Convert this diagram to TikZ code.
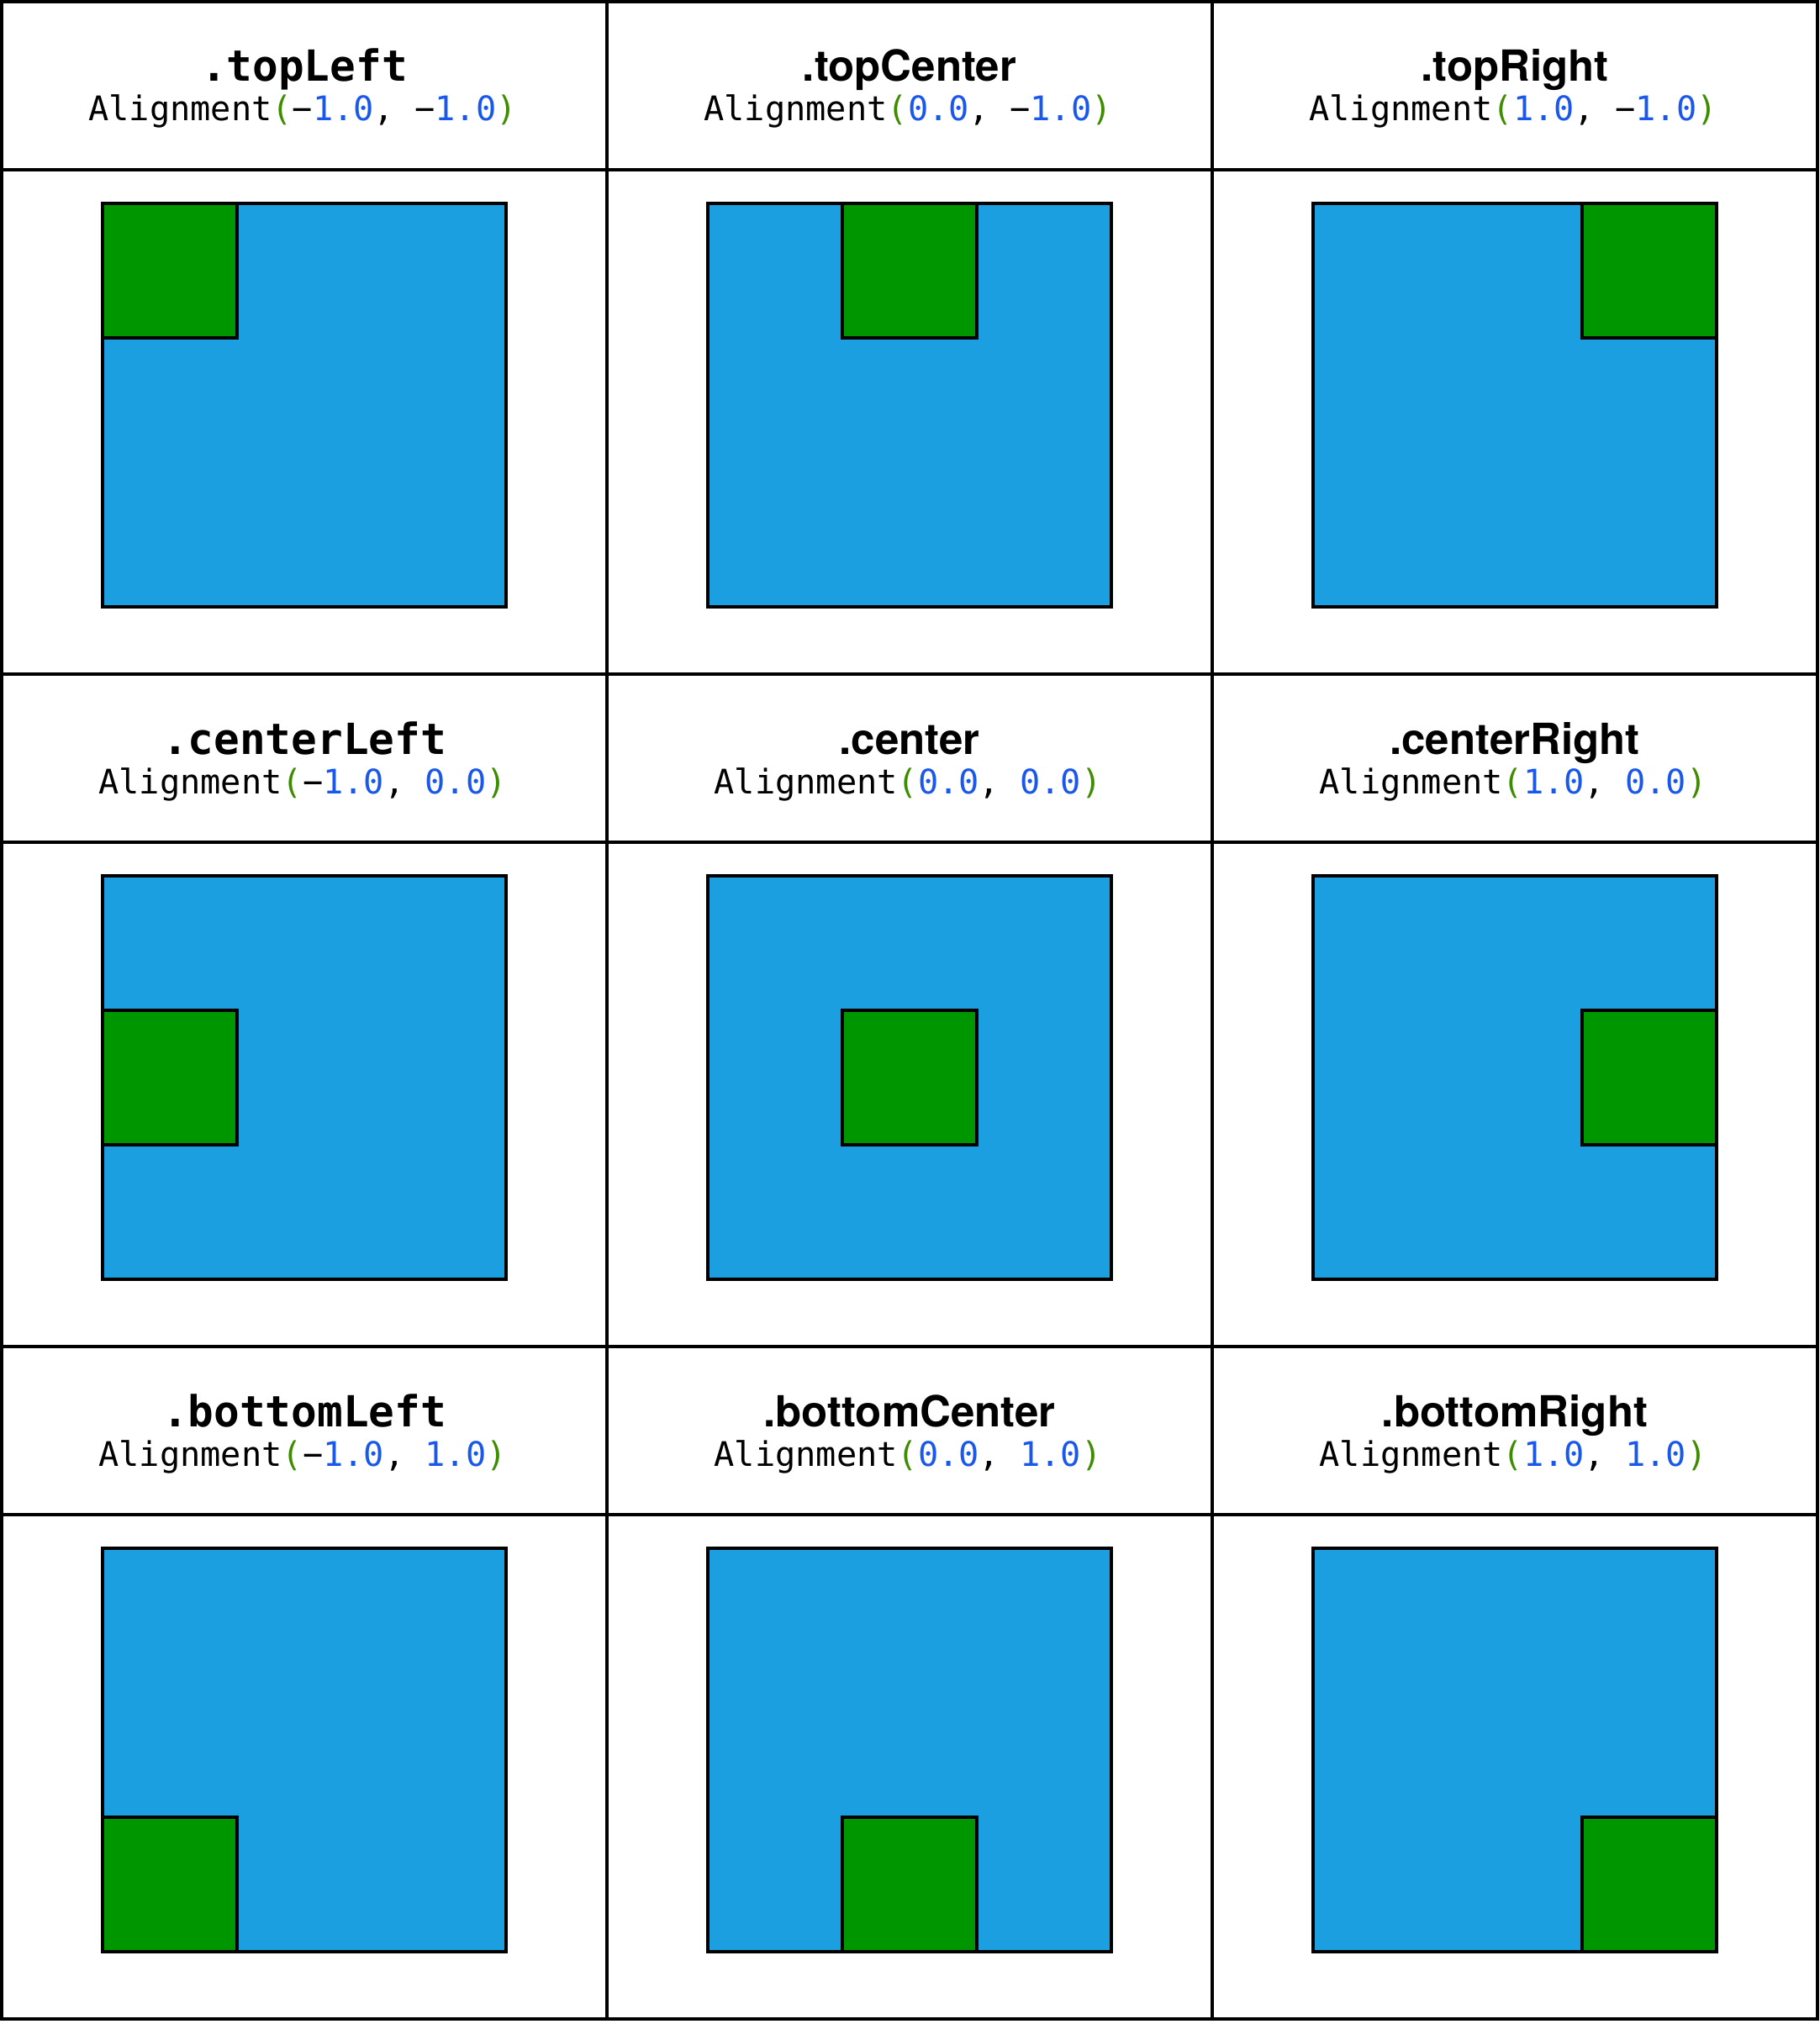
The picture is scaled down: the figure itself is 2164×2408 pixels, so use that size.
\documentclass[tikz,border=0pt]{standalone}
\usepackage{fontspec}
\newfontfamily\monofont{DejaVu Sans Mono}
\newfontfamily\headsans{TeX Gyre Heros}
\definecolor{sqblue}{RGB}{28,159,224}
\definecolor{sqgreen}{RGB}{0,150,0}
\definecolor{numblue}{RGB}{25,88,235}
\definecolor{parengreen}{RGB}{62,140,0}
\newcommand\nmb[1]{\textcolor{numblue}{#1}}
\newcommand\alignlabel[2]{Alignment\textcolor{parengreen}{(}#1, #2\textcolor{parengreen}{)}}
\tikzset{
  grid line/.style={line width=4pt, black},
  bluebox/.style={draw=black, line width=4pt, fill=sqblue, minimum size=480pt, inner sep=0pt, outer sep=0pt, anchor=north west},
  greenbox/.style={draw=black, line width=4pt, fill=sqgreen, minimum size=160pt, inner sep=0pt, outer sep=0pt, anchor=north west},
  monotitle/.style={anchor=base, inner sep=0pt, font=\monofont\bfseries\fontsize{51}{60}\selectfont},
  sanstitle/.style={anchor=base, inner sep=0pt, font=\headsans\bfseries\fontsize{51}{60}\selectfont},
  subtitle/.style={anchor=base, inner sep=0pt, font=\monofont\fontsize{40.3}{48}\selectfont},
}
\begin{document}
\begin{tikzpicture}[x=1pt, y=-1pt]
\useasboundingbox (0,0) rectangle (2164,2408);
% squares
\foreach \c/\r/\ax/\ay/\nm in {0/0/-1/-1/a, 1/0/0/-1/b, 2/0/1/-1/c, 0/1/-1/0/d, 1/1/0/0/e, 2/1/1/0/f, 0/2/-1/1/g, 1/2/0/1/h, 2/2/1/1/i}{
  \pgfmathsetmacro\bx{2+720*\c+120}
  \pgfmathsetmacro\by{202+800*\r+40}
  \pgfmathsetmacro\gx{\bx+(\ax+1)*160}
  \pgfmathsetmacro\gy{\by+(\ay+1)*160}
  \node[bluebox] (blue\nm) at (\bx,\by) {};
  \node[greenbox] (green\nm) at (\gx,\gy) {};
}
% grid
\draw[grid line] (2,2) rectangle (2162,2402);
\draw[grid line] (722,2) -- (722,2402);
\draw[grid line] (1442,2) -- (1442,2402);
\foreach \yy in {202,802,1002,1602,1802}{
  \draw[grid line] (2,\yy) -- (2162,\yy);
}
% titles
\node[monotitle] (t1) at (362,97) {.topLeft};
\node[sanstitle] (t2) at (1082,97) {.topCenter};
\node[sanstitle] (t3) at (1802,97) {.topRight};
\node[subtitle] (s1) at (360,144) {\alignlabel{−\nmb{1.0}}{−\nmb{1.0}}};
\node[subtitle] (s2) at (1080,144) {\alignlabel{\nmb{0.0}}{−\nmb{1.0}}};
\node[subtitle] (s3) at (1800,144) {\alignlabel{\nmb{1.0}}{−\nmb{1.0}}};
\node[monotitle] (t4) at (362,897) {.centerLeft};
\node[sanstitle] (t5) at (1082,897) {.center};
\node[sanstitle] (t6) at (1802,897) {.centerRight};
\node[subtitle] (s4) at (360,944) {\alignlabel{−\nmb{1.0}}{\nmb{0.0}}};
\node[subtitle] (s5) at (1080,944) {\alignlabel{\nmb{0.0}}{\nmb{0.0}}};
\node[subtitle] (s6) at (1800,944) {\alignlabel{\nmb{1.0}}{\nmb{0.0}}};
\node[monotitle] (t7) at (362,1697) {.bottomLeft};
\node[sanstitle] (t8) at (1082,1697) {.bottomCenter};
\node[sanstitle] (t9) at (1802,1697) {.bottomRight};
\node[subtitle] (s7) at (360,1744) {\alignlabel{−\nmb{1.0}}{\nmb{1.0}}};
\node[subtitle] (s8) at (1080,1744) {\alignlabel{\nmb{0.0}}{\nmb{1.0}}};
\node[subtitle] (s9) at (1800,1744) {\alignlabel{\nmb{1.0}}{\nmb{1.0}}};
\end{tikzpicture}
\end{document}
